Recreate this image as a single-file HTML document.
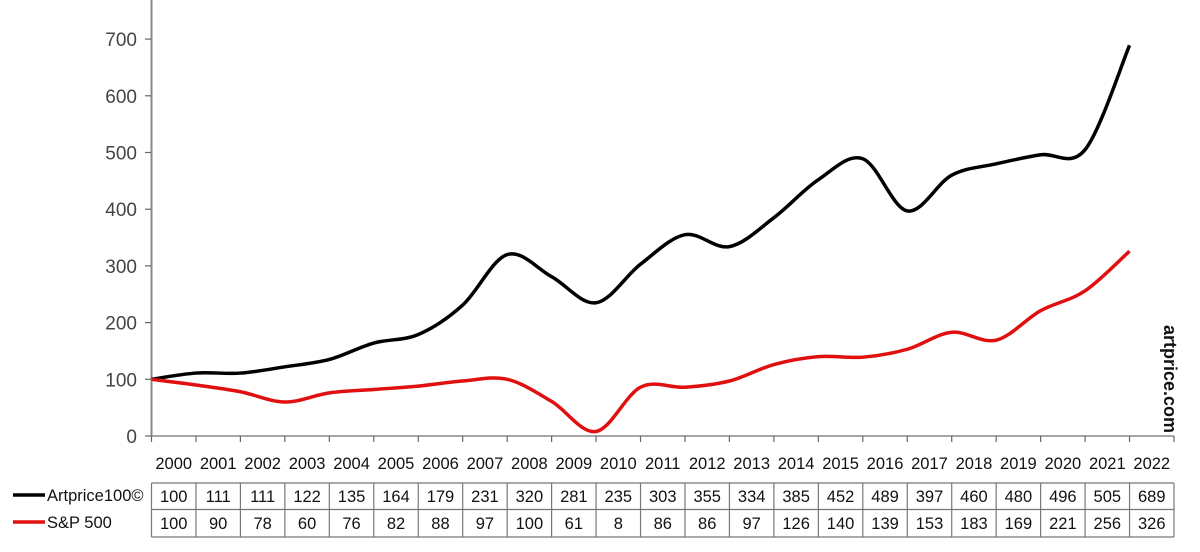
<!DOCTYPE html>
<html><head><meta charset="utf-8"><style>
html,body{margin:0;padding:0;background:#fff;width:1200px;height:552px;overflow:hidden}
svg{display:block;font-family:"Liberation Sans",Arial,sans-serif}
</style></head><body>
<svg id="s" width="1200" height="552" viewBox="0 0 1200 552">
<g id="yl" fill="#444" font-size="19" text-anchor="end"></g>
<line x1="151.5" y1="0" x2="151.5" y2="436" stroke="#888" stroke-width="2"/>
<line x1="151" y1="436" x2="1174" y2="436" stroke="#888" stroke-width="1.5"/>
<g id="tk" stroke="#666" stroke-width="1.2"></g>
<g id="yr" fill="#111" font-size="16.5" text-anchor="middle"></g>
<g id="tb" stroke="#777" stroke-width="1.2"></g>
<g id="tv" fill="#111" font-size="16.5" text-anchor="middle"></g>
<path id="pa" fill="none" stroke="#000" stroke-width="3.5" stroke-linejoin="round"/>
<path id="ps" fill="none" stroke="#e01010" stroke-width="3.5" stroke-linejoin="round"/>
<line x1="13" y1="495" x2="45" y2="495" stroke="#000" stroke-width="3.5"/>
<text x="47" y="501" font-size="16.5" fill="#111">Artprice100©</text>
<line x1="13" y1="522" x2="45" y2="522" stroke="#e01010" stroke-width="3.5"/>
<text x="47" y="528" font-size="16.5" fill="#111">S&amp;P 500</text>
<text transform="translate(1164,325) rotate(90)" font-size="18" font-weight="bold" fill="#111">artprice.com</text>
</svg>
<script>
var A=[100,111,111,122,135,164,179,231,320,281,235,303,355,334,385,452,489,397,460,480,496,505,689];
var S=[100,90,78,60,76,82,88,97,100,61,8,86,86,97,126,140,139,153,183,169,221,256,326];
var x0=151.5,cw=(1174-151.5)/23;
function Y(v){return 436-v*0.567;}
function X(i){return x0+i*cw;}
var ns="http://www.w3.org/2000/svg";
function el(p,t,a,txt){var e=document.createElementNS(ns,t);for(var k in a)e.setAttribute(k,a[k]);if(txt!=null)e.textContent=txt;document.getElementById(p).appendChild(e);}
for(var v=0;v<=700;v+=100){el("yl","text",{x:137,y:Y(v)+7},v);el("tk","line",{x1:145,y1:Y(v),x2:151,y2:Y(v)});}
for(var i=0;i<=23;i++){el("tk","line",{x1:X(i),y1:436,x2:X(i),y2:442});}
var T1=483,T2=509.5,T3=537;
el("tb","line",{x1:x0,y1:T1,x2:1174,y2:T1});el("tb","line",{x1:x0,y1:T2,x2:1174,y2:T2});el("tb","line",{x1:x0,y1:T3,x2:1174,y2:T3});
for(var i=0;i<=23;i++)el("tb","line",{x1:X(i),y1:T1,x2:X(i),y2:T3});
for(var i=0;i<23;i++){var cx=X(i)+cw/2;el("yr","text",{x:cx,y:469},2000+i);el("tv","text",{x:cx,y:502},A[i]);el("tv","text",{x:cx,y:529},S[i]);}
function path(D){var P=D.map(function(v,i){return[X(i),Y(v)]});var d="M"+P[0][0]+","+P[0][1];
for(var i=0;i<P.length-1;i++){var p0=P[i-1]||P[i],p1=P[i],p2=P[i+1],p3=P[i+2]||P[i+1];var t=1/6;
d+=" C"+(p1[0]+(p2[0]-p0[0])*t)+","+(p1[1]+(p2[1]-p0[1])*t)+" "+(p2[0]-(p3[0]-p1[0])*t)+","+(p2[1]-(p3[1]-p1[1])*t)+" "+p2[0]+","+p2[1];}return d;}
document.getElementById("pa").setAttribute("d",path(A));
document.getElementById("ps").setAttribute("d",path(S));
</script>
</body></html>
